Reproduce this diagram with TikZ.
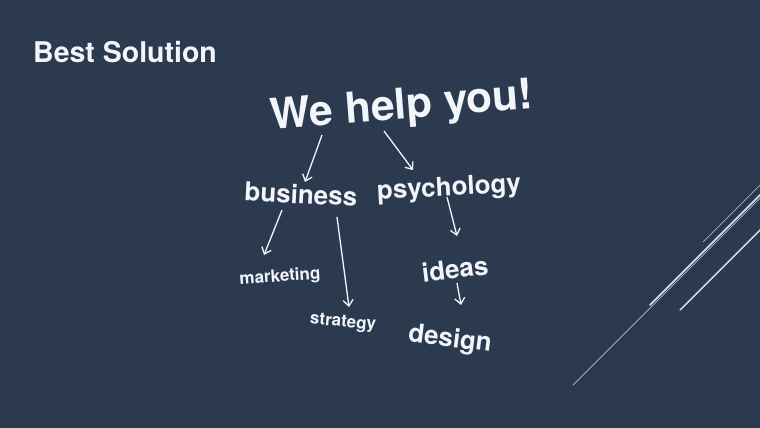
\documentclass[tikz,border=0pt]{standalone}
\usepackage{fontspec}
\setmainfont{TeX Gyre Heros}
\usetikzlibrary{arrows.meta}
\definecolor{bg}{HTML}{2C3A50}
\definecolor{txt}{HTML}{F2F5F9}
\definecolor{ln}{HTML}{D8E4F0}
\tikzset{
  lbl/.style={text=txt,font=\bfseries,inner sep=0pt,anchor=center},
  arr/.style={draw=txt,line width=1.3pt,-{Straight Barb[length=6pt,width=10pt]}},
  deco/.style={draw=ln,line cap=round}
}
\begin{document}
\begin{tikzpicture}[x=1pt,y=-1pt]
\fill[bg] (0,0) rectangle (760,428);
\useasboundingbox (0,0) rectangle (760,428);
% decorative lines
\coordinate (l1a) at (703,242); \coordinate (l1b) at (762,183);
\coordinate (l2a) at (650,305); \coordinate (l2b) at (762,193);
\coordinate (l3a) at (573,385); \coordinate (l3b) at (762,196);
\coordinate (l4a) at (680,310); \coordinate (l4b) at (762,228);
\draw[deco,line width=0.7pt,draw opacity=0.7] (l1a) -- (l1b);
\draw[deco,line width=1.6pt] (l2a) -- (l2b);
\draw[deco,line width=0.7pt,draw opacity=0.8] (l3a) -- (l3b);
\draw[deco,line width=1.4pt] (l4a) -- (l4b);
% texts
\node[lbl,font=\bfseries\fontsize{28.5}{30}\selectfont,anchor=base west] (title) at (33,63) {Best Solution};
\node[lbl,font=\bfseries\fontsize{42.5}{44}\selectfont,rotate=4.5] (we) at (402,108) {We help you!};
\node[lbl,font=\bfseries\fontsize{26}{28}\selectfont,rotate=-3] (business) at (301,194) {business};
\node[lbl,font=\bfseries\fontsize{26}{28}\selectfont,rotate=3] (psych) at (449,189) {psychology};
\node[lbl,font=\bfseries\fontsize{17}{19}\selectfont,rotate=4] (marketing) at (280,277) {marketing};
\node[lbl,font=\bfseries\fontsize{17}{19}\selectfont,rotate=-5] (strategy) at (343,323) {strategy};
\node[lbl,font=\bfseries\fontsize{26}{28}\selectfont,rotate=7] (ideas) at (455,269) {ideas};
\node[lbl,font=\bfseries\fontsize{26}{28}\selectfont,rotate=-7] (design) at (450,340) {design};
% arrow end points
\coordinate (a1s) at (322,135); \coordinate (a1e) at (305,182);
\coordinate (a2s) at (384,131); \coordinate (a2e) at (413,170);
\coordinate (a3s) at (282,210); \coordinate (a3e) at (264,255);
\coordinate (a4s) at (337,217); \coordinate (a4e) at (349,307);
\coordinate (a5s) at (447,197); \coordinate (a5e) at (457,236);
\coordinate (a6s) at (457,283); \coordinate (a6e) at (461,305);
\draw[arr] (a1s) -- (a1e);
\draw[arr] (a2s) -- (a2e);
\draw[arr] (a3s) -- (a3e);
\draw[arr] (a4s) -- (a4e);
\draw[arr] (a5s) -- (a5e);
\draw[arr] (a6s) -- (a6e);
\end{tikzpicture}
\end{document}
